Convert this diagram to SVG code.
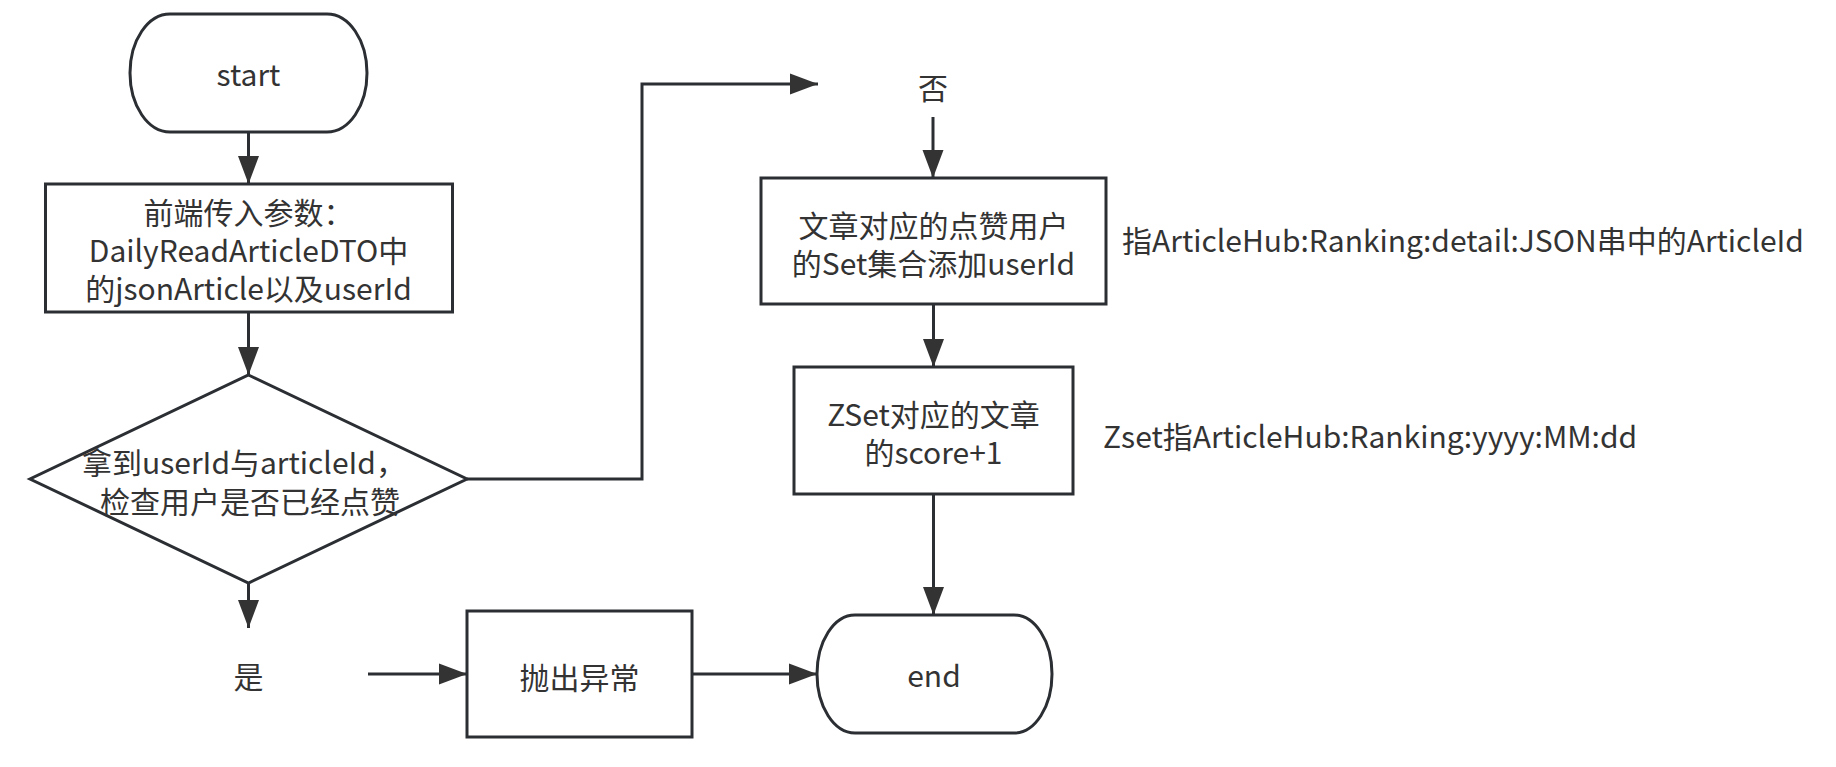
<svg xmlns="http://www.w3.org/2000/svg" width="1836" height="767" viewBox="0 0 1836 767">
<style>
.s{fill:#fff;stroke:#2b2f33;stroke-width:3}
.t{font-family:"Noto Sans CJK SC","Microsoft YaHei",sans-serif;font-size:30px;fill:#333;text-anchor:middle}
.a{font-family:"Noto Sans CJK SC","Microsoft YaHei",sans-serif;font-size:30px;fill:#333;text-anchor:start}
.c{fill:none;stroke:#2b2f33;stroke-width:3;marker-end:url(#ah)}
</style>
<defs>
<marker id="ah" markerUnits="userSpaceOnUse" markerWidth="28" markerHeight="22" refX="28" refY="11" orient="auto">
<path d="M0,0.5 L28,11 L0,21.5 z" fill="#333"/>
</marker>
</defs>
<rect width="1836" height="767" fill="#fff"/>
<g id="connectors">
<path class="c" d="M248.5,132 V184"/>
<path class="c" d="M248.5,312 V375"/>
<path class="c" d="M248.5,583 V628"/>
<path class="c" d="M368,674 H467"/>
<path class="c" d="M692,674 H817"/>
<path class="c" d="M467,479 H642 V84 H818"/>
<path class="c" d="M933,117 V178"/>
<path class="c" d="M933.5,304 V367"/>
<path class="c" d="M933.5,494 V615"/>
</g>
<g id="start">
<rect class="s" x="130" y="14" width="237" height="118" rx="40" ry="59"/>
<text class="t" x="248.5" y="86">start</text>
</g>
<g id="input">
<rect class="s" x="45.5" y="184" width="407" height="128"/>
<text class="t" x="248.5" y="224">前端传入参数：</text>
<text class="t" x="248.5" y="262">DailyReadArticleDTO中</text>
<text class="t" x="248.5" y="300">的jsonArticle以及userId</text>
</g>
<g id="check">
<path class="s" d="M248.5,375 L467,479 L248.5,583 L30,479 Z"/>
<text class="t" x="244" y="474">拿到userId与articleId，</text>
<text class="t" x="250" y="513">检查用户是否已经点赞</text>
</g>
<g id="yes">
<text class="t" x="248.5" y="688">是</text>
</g>
<g id="throw">
<rect class="s" x="467" y="611" width="225" height="126"/>
<text class="t" x="579.5" y="689">抛出异常</text>
</g>
<g id="end">
<rect class="s" x="817" y="615" width="235" height="118" rx="38" ry="59"/>
<text class="t" x="934" y="687">end</text>
</g>
<g id="no">
<text class="t" x="933" y="99">否</text>
</g>
<g id="addset">
<rect class="s" x="761" y="178" width="345" height="126"/>
<text class="t" x="933.5" y="237">文章对应的点赞用户</text>
<text class="t" x="933.5" y="275">的Set集合添加userId</text>
</g>
<g id="zset">
<rect class="s" x="794" y="367" width="279" height="127"/>
<text class="t" x="933.5" y="426">ZSet对应的文章</text>
<text class="t" x="933.5" y="464">的score+1</text>
</g>
<g id="note1">
<text class="a" x="1122" y="252">指ArticleHub:Ranking:detail:JSON串中的ArticleId</text>
</g>
<g id="note2">
<text class="a" x="1103" y="448">Zset指ArticleHub:Ranking:yyyy:MM:dd</text>
</g>
</svg>
